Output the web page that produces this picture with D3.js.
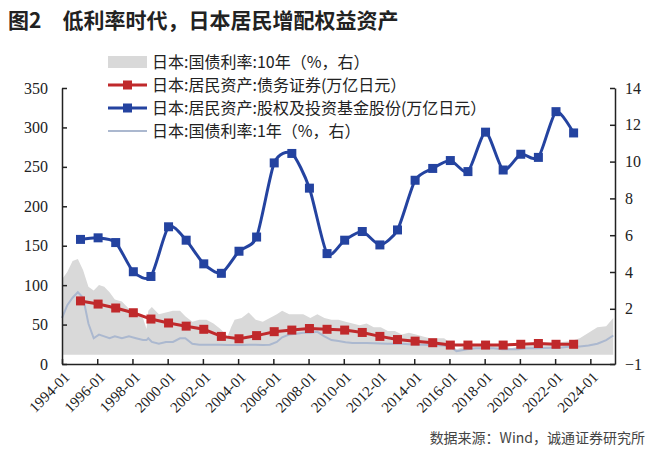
<!DOCTYPE html>
<html><head><meta charset="utf-8">
<script src="https://cdn.jsdelivr.net/npm/d3@7"></script>
<style>body{margin:0;background:#fff}</style>
</head><body>
<svg id="c" width="660" height="460"></svg>
<script>
// yearly household assets (trillion yen)
var years = d3.range(1995, 2024);
var equity = [158,160,154,117,111,174,157,127,115,143,161,255,267,223,140,157,168,151,170,233,248,258,244,294,246,266,262,320,293];
var bonds = [80,76,71,65,57,52,48,44,35,32,36,41,43,45,44,43,40,35,31,29,27,24,24,24,24,25,26,25,25];
// JGB yields (%), by fractional year
var jgbDates = [1994.0,1994.3,1994.6,1994.9,1995.2,1995.5,1995.8,1996.1,1996.4,1996.7,1997.0,1997.4,1997.8,1998.2,1998.6,1998.8,1998.9,1999.1,1999.5,1999.9,2000.3,2000.7,2001.0,2001.4,2001.8,2002.2,2002.6,2003.0,2003.4,2003.6,2003.8,2004.2,2004.6,2005.0,2005.4,2005.8,2006.2,2006.5,2006.9,2007.3,2007.7,2008.1,2008.5,2008.9,2009.3,2009.7,2010.1,2010.5,2010.9,2011.3,2011.7,2012.1,2012.5,2012.9,2013.3,2013.7,2014.1,2014.5,2014.9,2015.3,2015.7,2016.1,2016.4,2016.7,2017.0,2017.5,2018.0,2018.5,2019.0,2019.5,2019.9,2020.4,2020.9,2021.4,2021.9,2022.4,2022.9,2023.4,2023.9,2024.4,2024.9,2025.3];
var jgb10 = [3.6,4.0,4.6,4.7,4.1,3.2,3.0,3.3,3.2,2.9,2.5,2.4,2.0,1.7,1.5,0.9,1.9,2.1,1.7,1.8,1.9,1.9,1.6,1.3,1.4,1.4,1.2,0.9,0.5,1.0,1.4,1.5,1.8,1.4,1.3,1.5,1.7,1.9,1.7,1.7,1.7,1.5,1.7,1.5,1.4,1.4,1.3,1.2,1.1,1.2,1.0,1.0,0.8,0.8,0.6,0.7,0.6,0.5,0.4,0.4,0.4,0.1,-0.2,-0.1,0.05,0.05,0.05,0.05,0.0,-0.15,-0.05,0.0,0.03,0.08,0.07,0.2,0.25,0.4,0.7,1.0,1.05,1.5];
var jgb1 = [1.5,2.2,2.6,2.9,2.6,1.2,0.4,0.6,0.5,0.4,0.5,0.4,0.5,0.4,0.3,0.3,0.4,0.2,0.1,0.2,0.2,0.4,0.4,0.1,0.05,0.05,0.05,0.04,0.03,0.03,0.03,0.03,0.04,0.04,0.03,0.05,0.2,0.45,0.6,0.65,0.7,0.7,0.75,0.5,0.3,0.25,0.18,0.14,0.14,0.14,0.13,0.12,0.1,0.1,0.1,0.08,0.06,0.05,0.03,0.02,0.01,-0.1,-0.3,-0.25,-0.2,-0.15,-0.15,-0.15,-0.2,-0.2,-0.2,-0.15,-0.15,-0.13,-0.12,-0.1,-0.05,-0.05,0.0,0.1,0.3,0.55];
var xTicks = d3.range(1994, 2025, 2);

var svg = d3.select('#c');
var L = 62, R = 615, T = 88, B = 364;
var x = d3.scaleLinear().domain([1994, 2025.4]).range([L, R]);
var yL = d3.scaleLinear().domain([0, 350]).range([B, T]);
var yR = d3.scaleLinear().domain([-1, 14]).range([B, T]);
var serif = '"Liberation Serif", "Times New Roman", serif';
var cjk = '"Noto Sans CJK SC", sans-serif';

svg.append('text').attr('x', 8).attr('y', 28).attr('font-family', cjk)
    .attr('font-weight', 'bold').attr('font-size', 21).attr('fill', '#222')
    .text('图2　低利率时代，日本居民增配权益资产');

var jgb10Pts = jgbDates.map(function(d, i) { return [d, jgb10[i]]; });
var jgb1Pts = jgbDates.map(function(d, i) { return [d, jgb1[i]]; });

svg.append('path').datum(jgb10Pts)
    .attr('fill', '#d9d9d9')
    .attr('d', d3.area().x(function(d) { return x(d[0]); })
      .y0(yR(-0.5)).y1(function(d) { return yR(Math.max(d[1], -0.5)); }));
svg.append('path').datum(jgb1Pts)
    .attr('fill', 'none').attr('stroke', '#abb8cf').attr('stroke-width', 2)
    .attr('d', d3.line().x(function(d) { return x(d[0]); }).y(function(d) { return yR(d[1]); }));

function series(vals, color, curve) {
  var pts = years.map(function(y, i) { return [y + 0.05, vals[i]]; });
  svg.append('path').datum(pts).attr('fill', 'none').attr('stroke', color).attr('stroke-width', 3)
      .attr('d', d3.line().curve(curve).x(function(d) { return x(d[0]); }).y(function(d) { return yL(d[1]); }));
  svg.selectAll(null).data(pts).enter().append('rect')
      .attr('x', function(d) { return x(d[0]) - 4.5; }).attr('y', function(d) { return yL(d[1]) - 4.5; })
      .attr('width', 9).attr('height', 9).attr('fill', color);
}
series(bonds, '#c0292b', d3.curveLinear);
series(equity, '#2443a0', d3.curveCardinal.tension(0.3));

// axes
svg.append('g').attr('transform', 'translate(' + L + ',0)')
    .call(d3.axisLeft(yL).tickValues(d3.range(0, 351, 50)).tickSizeInner(-5).tickSizeOuter(0).tickPadding(14))
    .call(function(g) { g.selectAll('text').attr('font-family', serif).attr('font-size', 16).attr('fill', '#222'); });
svg.append('g').attr('transform', 'translate(' + R + ',0)')
    .call(d3.axisRight(yR).tickValues([-1, 2, 4, 6, 8, 10, 12, 14]).tickSizeInner(-5).tickSizeOuter(0).tickPadding(10)
      .tickFormat(d3.format('d')))
    .call(function(g) { g.selectAll('text').attr('font-family', serif).attr('font-size', 16).attr('fill', '#222'); });
var xa = svg.append('g').attr('transform', 'translate(0,' + B + ')')
    .call(d3.axisBottom(x).tickValues(xTicks).tickSizeInner(-5).tickSizeOuter(0)
      .tickFormat(function(d) { return d + '-01'; }));
xa.selectAll('text').attr('font-family', serif).attr('font-size', 15).attr('fill', '#222')
    .attr('text-anchor', 'end').attr('dy', 0)
    .attr('transform', 'translate(6,12) rotate(-45)');
svg.selectAll('.domain').attr('stroke', '#222').attr('stroke-width', 1.5);
svg.selectAll('.tick line').attr('stroke', '#222').attr('stroke-width', 1.5);

// legend
var legend = [
  {name: '日本:国债利率:10年（%，右）', type: 'area', color: '#d9d9d9'},
  {name: '日本:居民资产:债务证券(万亿日元）', type: 'mark', color: '#c0292b'},
  {name: '日本:居民资产:股权及投资基金股份(万亿日元）', type: 'mark', color: '#2443a0'},
  {name: '日本:国债利率:1年（%，右）', type: 'line', color: '#abb8cf'}
];
var lg = svg.selectAll('.lg').data(legend).enter().append('g')
    .attr('transform', function(d, i) { return 'translate(108,' + (62 + i * 23) + ')'; });
var bg = lg.append('rect').attr('x', 42).attr('y', -10).attr('height', 20).attr('fill', '#fff');
lg.each(function(d) {
  var g = d3.select(this);
  if (d.type === 'area') g.append('rect').attr('x', 0).attr('y', -6).attr('width', 39).attr('height', 12).attr('fill', d.color);
  else {
    g.append('line').attr('x1', 0).attr('x2', 39).attr('stroke', d.color).attr('stroke-width', d.type === 'line' ? 2 : 3);
    if (d.type === 'mark') g.append('rect').attr('x', 15).attr('y', -4.5).attr('width', 9).attr('height', 9).attr('fill', d.color);
  }
});
var lt = lg.append('text').attr('x', 44).attr('y', 6).attr('font-family', cjk).attr('font-size', 16).attr('fill', '#222')
    .text(function(d) { return d.name; });
bg.attr('width', function(d, i) { return lt.nodes()[i].getComputedTextLength() + 4; });

svg.append('text').attr('x', 645).attr('y', 443).attr('text-anchor', 'end')
    .attr('font-family', cjk).attr('font-size', 14).attr('fill', '#444')
    .text('数据来源：Wind，诚通证券研究所');
</script>
</body></html>
